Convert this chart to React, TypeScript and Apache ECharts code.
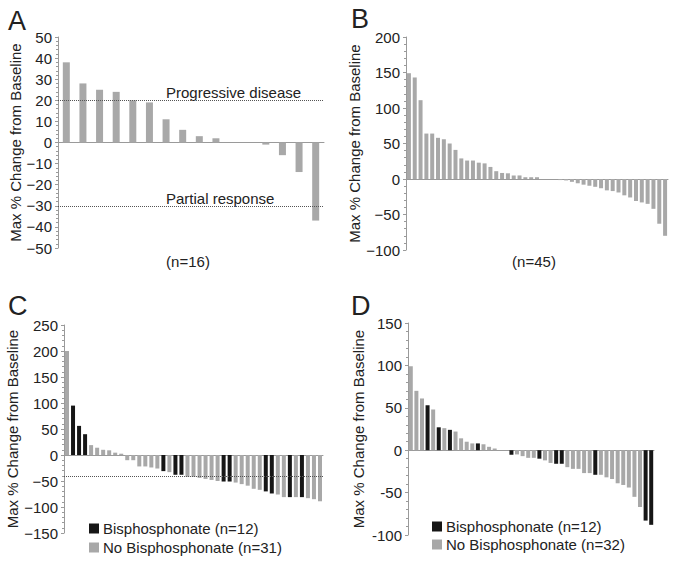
import React, { useEffect, useRef } from 'react';
import * as echarts from 'echarts';

// ---- data ----
const panelAValues = [38, 28, 25, 24, 20, 19, 11, 6, 3, 2, 0, 0, -1, -6, -14, -37];
const panelARefLines = [20, -30];

const panelBValues = [
  149, 143, 111, 64, 64, 58, 56, 50, 41, 29, 26, 26, 23, 22, 17, 11, 8.5, 8, 5, 5,
  2.5, 2.5, 2.5, 0, 0, 0, -1.5, -2, -4, -6, -8, -9.5, -11, -13, -16, -17, -19, -23,
  -26, -31, -33, -35, -42, -63, -80,
];

const panelCValues = [
  200, 95, 56, 40, 19, 14, 10, 9, 4.5, 2.5, -10, -10, -22, -22, -24, -26, -31, -33,
  -38, -38, -42, -42, -44, -46, -48, -50, -51, -51, -53, -56, -59, -65, -67, -70,
  -74, -76, -81, -81, -81, -81, -83, -85, -89,
];
const panelCBisphosphonateIdx = [1, 2, 3, 16, 18, 19, 26, 27, 33, 34, 37, 39];
const panelCRefLines = [-40];

const panelDValues = [
  99, 70, 61, 53, 48, 27, 26, 24, 22, 14, 10, 8, 8, 7, 4, 2, 0, 0, -5.5, -5, -7, -9,
  -9, -10, -12, -15, -16, -16, -20, -22, -22, -27, -27, -29, -29, -32, -34, -39, -41,
  -44, -55, -67, -83, -88,
];
const panelDBisphosphonateIdx = [3, 5, 7, 12, 16, 18, 23, 26, 27, 33, 42, 43];

const axisA = { min: -50, max: 50, interval: 10 };
const axisB = { min: -100, max: 200, interval: 50 };
const axisC = { min: -150, max: 250, interval: 50 };
const axisD = { min: -100, max: 150, interval: 50 };

const yTitle = 'Max % Change from Baseline';
const legendC = ['Bisphosphonate (n=12)', 'No Bisphosphonate (n=31)'];
const legendD = ['Bisphosphonate (n=12)', 'No Bisphosphonate (n=32)'];

const GRAY = '#a8a8a8';
const BLACK = '#161616';
const AXIS = '#9a9a9a';
const TEXT = '#222';
const FONT = '"Liberation Sans", Arial, Helvetica, sans-serif';

const minusFmt = (v: number) => (v < 0 ? '\u2212' + Math.abs(v) : String(v));
const hyphenFmt = (v: number) => String(v);

function makeX(gridIndex: number, n: number) {
  return {
    type: 'category',
    gridIndex,
    data: Array.from({ length: n }, (_, i) => String(i + 1)),
    axisLine: { show: true, onZero: true, lineStyle: { color: AXIS, width: 1 } },
    axisTick: { show: false },
    axisLabel: { show: false },
    splitLine: { show: false },
  };
}

function makeY(gridIndex: number, ax: { min: number; max: number; interval: number }, nameGap: number, fmt: (v: number) => string) {
  return {
    type: 'value',
    gridIndex,
    min: ax.min,
    max: ax.max,
    interval: ax.interval,
    splitLine: { show: false },
    axisLine: { show: true, lineStyle: { color: AXIS, width: 1 } },
    axisTick: { show: true, length: 3, lineStyle: { color: AXIS } },
    minorTick: { show: true, splitNumber: 5, length: 2, lineStyle: { color: AXIS } },
    axisLabel: { fontSize: 15, color: TEXT, fontFamily: FONT, margin: 6, formatter: fmt },
    name: yTitle,
    nameLocation: 'middle',
    nameGap,
    nameRotate: 90,
    nameTextStyle: { fontSize: 15, color: TEXT, fontFamily: FONT },
  };
}

function refLines(values: number[]) {
  return {
    silent: true,
    symbol: 'none',
    label: { show: false },
    lineStyle: { color: '#555', type: 'dotted', width: 1 },
    data: values.map((v) => ({ yAxis: v })),
  };
}

function splitGroups(values: number[], idx: number[]) {
  const set = new Set(idx);
  return {
    bis: values.map((v, i) => (set.has(i) ? v : '-')),
    no: values.map((v, i) => (set.has(i) ? '-' : v)),
  };
}

function txt(text: string, x: number, y: number, size: number, align: string = 'left') {
  return {
    type: 'text',
    x,
    y,
    silent: true,
    style: { text, fontSize: size, fontFamily: FONT, fill: TEXT, align, verticalAlign: 'middle' },
  };
}

export default function App() {
  const ref = useRef<HTMLDivElement>(null);

  useEffect(() => {
    if (!ref.current) return;
    const chart = echarts.init(ref.current, null, { renderer: 'svg' });
    const c = splitGroups(panelCValues, panelCBisphosphonateIdx);
    const d = splitGroups(panelDValues, panelDBisphosphonateIdx);

    chart.setOption({
      animation: false,
      backgroundColor: '#fff',
      textStyle: { fontFamily: FONT },
      grid: [
        { left: 58, top: 37, width: 266, height: 211 },
        { left: 406, top: 37, width: 262, height: 213 },
        { left: 64, top: 325, width: 259, height: 208 },
        { left: 408, top: 323, width: 246, height: 212 },
      ],
      xAxis: [
        makeX(0, panelAValues.length),
        makeX(1, panelBValues.length),
        makeX(2, panelCValues.length),
        makeX(3, panelDValues.length),
      ],
      yAxis: [
        makeY(0, axisA, 33, minusFmt),
        makeY(1, axisB, 42, minusFmt),
        makeY(2, axisC, 39, minusFmt),
        makeY(3, axisD, 42, hyphenFmt),
      ],
      legend: [
        {
          data: legendC,
          orient: 'vertical',
          left: 84,
          top: 516,
          icon: 'rect',
          itemWidth: 10,
          itemHeight: 10,
          itemGap: 4,
          selectedMode: false,
          textStyle: { fontSize: 15, color: TEXT, fontFamily: FONT, padding: [0, 0, 0, -1] },
        },
        {
          data: legendD,
          orient: 'vertical',
          left: 427,
          top: 514,
          icon: 'rect',
          itemWidth: 10,
          itemHeight: 10,
          itemGap: 3,
          selectedMode: false,
          textStyle: { fontSize: 15, color: TEXT, fontFamily: FONT, padding: [0, 0, 0, -1] },
        },
      ],
      series: [
        {
          type: 'bar',
          name: 'A',
          xAxisIndex: 0,
          yAxisIndex: 0,
          data: panelAValues,
          barWidth: 7,
          itemStyle: { color: GRAY },
          markLine: refLines(panelARefLines),
        },
        {
          type: 'bar',
          name: 'B',
          xAxisIndex: 1,
          yAxisIndex: 1,
          data: panelBValues,
          barWidth: 4,
          itemStyle: { color: GRAY },
        },
        {
          type: 'bar',
          name: legendC[1],
          xAxisIndex: 2,
          yAxisIndex: 2,
          data: c.no,
          barWidth: 4,
          barGap: '-100%',
          itemStyle: { color: GRAY },
          markLine: refLines(panelCRefLines),
        },
        {
          type: 'bar',
          name: legendC[0],
          xAxisIndex: 2,
          yAxisIndex: 2,
          data: c.bis,
          barWidth: 4,
          barGap: '-100%',
          itemStyle: { color: BLACK },
        },
        {
          type: 'bar',
          name: legendD[1],
          xAxisIndex: 3,
          yAxisIndex: 3,
          data: d.no,
          barWidth: 4,
          barGap: '-100%',
          itemStyle: { color: GRAY },
        },
        {
          type: 'bar',
          name: legendD[0],
          xAxisIndex: 3,
          yAxisIndex: 3,
          data: d.bis,
          barWidth: 4,
          barGap: '-100%',
          itemStyle: { color: BLACK },
        },
      ],
      graphic: [
        txt('A', 8, 21, 27),
        txt('B', 351, 19, 27),
        txt('C', 8, 306, 27),
        txt('D', 351, 306, 27),
        txt('Progressive disease', 166, 92, 15),
        txt('Partial response', 166, 198, 15),
        txt('(n=16)', 188, 261, 15, 'center'),
        txt('(n=45)', 534, 261, 15, 'center'),
      ],
    });

    return () => chart.dispose();
  }, []);

  return (
    <div
      ref={ref}
      style={{ position: 'absolute', left: 0, top: 0, width: 676, height: 564, background: '#fff' }}
    />
  );
}
